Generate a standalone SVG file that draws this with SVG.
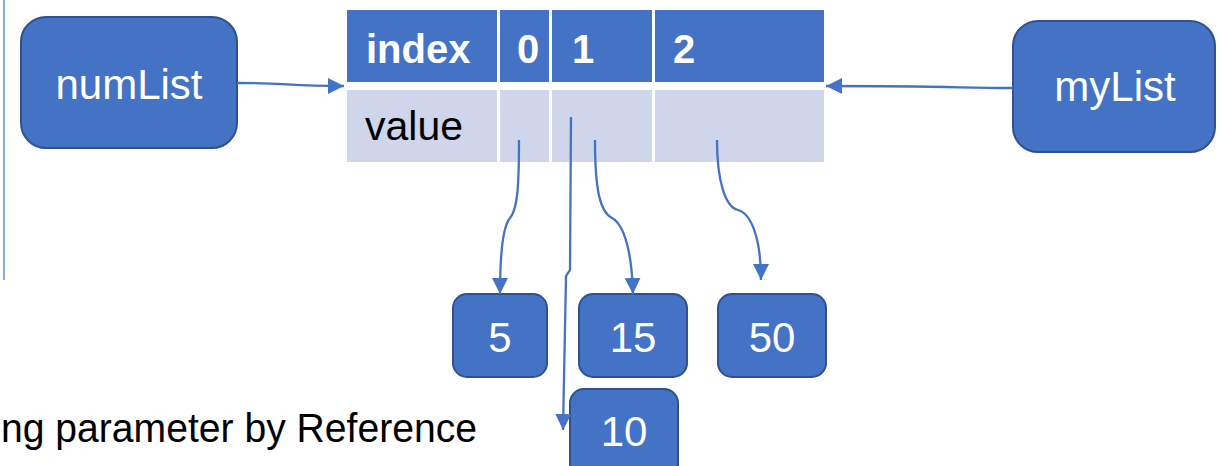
<svg xmlns="http://www.w3.org/2000/svg" width="1223" height="466" viewBox="0 0 1223 466">
<style>
.box{fill:#4472C4;stroke:#2F528F;stroke-width:2}
.hdr{fill:#4472C4}
.val{fill:#CFD5EA}
.wt{fill:#FFFFFF;font-family:"Liberation Sans",Arial,sans-serif;font-size:42px}
.bt{fill:#FFFFFF;font-family:"Liberation Sans",Arial,sans-serif;font-size:40px;font-weight:bold}
.kt{fill:#000000;font-family:"Liberation Sans",Arial,sans-serif;font-size:41px}
.conn{fill:none;stroke:#4472C4;stroke-width:2.3}
</style>
<defs>
<marker id="arr" viewBox="0 0 16 16" refX="16" refY="8" markerWidth="16" markerHeight="16" markerUnits="userSpaceOnUse" orient="auto">
<path d="M0,0 L16,8 L0,16 z" fill="#4472C4"/>
</marker>
</defs>
<rect width="1223" height="466" fill="#FFFFFF"/>
<line x1="4" y1="0" x2="4" y2="280" stroke="#4472C4" stroke-width="1.2"/>
<g id="table">
<rect class="hdr" x="347" y="10" width="150" height="72"/>
<rect class="hdr" x="500" y="10" width="49" height="72"/>
<rect class="hdr" x="552" y="10" width="100" height="72"/>
<rect class="hdr" x="655" y="10" width="169" height="72"/>
<rect class="val" x="347" y="90" width="150" height="72"/>
<rect class="val" x="500" y="90" width="49" height="72"/>
<rect class="val" x="552" y="90" width="100" height="72"/>
<rect class="val" x="655" y="90" width="169" height="72"/>
<text class="bt" x="366" y="63">index</text>
<text class="bt" x="528" y="63" text-anchor="middle">0</text>
<text class="bt" x="583" y="63" text-anchor="middle">1</text>
<text class="bt" x="684" y="63" text-anchor="middle">2</text>
<text class="kt" x="365" y="140">value</text>
</g>
<g id="numList">
<rect class="box" x="21" y="17" width="216" height="131" rx="25"/>
<text class="wt" x="129" y="99" text-anchor="middle">numList</text>
</g>
<g id="myList">
<rect class="box" x="1013" y="21" width="202" height="131" rx="25"/>
<text class="wt" x="1115" y="101" text-anchor="middle">myList</text>
</g>
<g id="v5">
<rect class="box" x="453" y="294" width="94" height="83" rx="14"/>
<text class="wt" x="500" y="352" text-anchor="middle">5</text>
</g>
<g id="v15">
<rect class="box" x="579" y="294" width="108" height="83" rx="14"/>
<text class="wt" x="633" y="352" text-anchor="middle">15</text>
</g>
<g id="v50">
<rect class="box" x="718" y="294" width="108" height="83" rx="14"/>
<text class="wt" x="772" y="352" text-anchor="middle">50</text>
</g>
<g id="v10">
<rect class="box" x="570" y="389" width="108" height="90" rx="14"/>
<text class="wt" x="624" y="446" text-anchor="middle">10</text>
</g>
<g id="caption">
<text class="kt" x="1" y="442" font-size="40" textLength="476" lengthAdjust="spacingAndGlyphs">ng parameter by Reference</text>
</g>
<g id="connectors">
<path class="conn" marker-end="url(#arr)" d="M237,83 C290,83 285,86 344,86"/>
<path class="conn" marker-end="url(#arr)" d="M1013,88 C960,88 950,86 826,86"/>
<path class="conn" marker-end="url(#arr)" d="M519,140 C519,190 517,210 510,218 C503,226 500,250 500,294"/>
<path class="conn" marker-end="url(#arr)" d="M571,117 L570,270 L566,276 L563,430"/>
<path class="conn" marker-end="url(#arr)" d="M595,140 C595,190 600,212 612,218 C625,225 632,255 633,294"/>
<path class="conn" marker-end="url(#arr)" d="M717,140 C717,180 725,207 738,210 C752,214 761,240 761,280"/>
</g>
</svg>
